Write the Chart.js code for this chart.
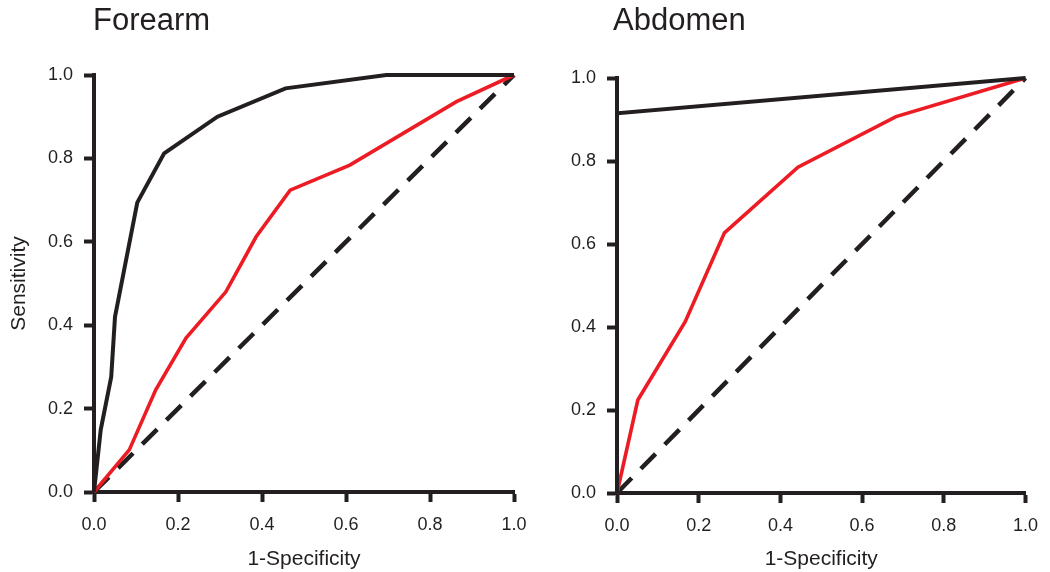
<!DOCTYPE html>
<html><head><meta charset="utf-8">
<script src="https://cdn.jsdelivr.net/npm/chart.js@4/dist/chart.umd.min.js"></script>
<style>
html,body{margin:0;padding:0;background:#fff;}
#wrap{position:relative;width:1050px;height:572px;overflow:hidden;background:#fff}
#c1{position:absolute;left:0;top:0}
#c2{position:absolute;left:560px;top:0}
</style></head><body>
<div id="wrap"><canvas id="c1" width="560" height="572"></canvas><canvas id="c2" width="490" height="572"></canvas></div>
<script>
// ---- data ----
const panelTitles = ['Forearm', 'Abdomen'];
const xAxisTitle = '1-Specificity';
const yAxisTitle = 'Sensitivity';
const tickValues = [0, 0.2, 0.4, 0.6, 0.8, 1.0];

const forearmBlackX = [0, 0.016, 0.041, 0.050, 0.103, 0.167, 0.294, 0.456, 0.696, 1.0];
const forearmBlackY = [0, 0.149, 0.276, 0.420, 0.694, 0.812, 0.900, 0.968, 1.0, 1.0];
const forearmRedX = [0, 0.084, 0.147, 0.219, 0.314, 0.386, 0.467, 0.609, 0.863, 1.0];
const forearmRedY = [0, 0.101, 0.245, 0.369, 0.480, 0.612, 0.724, 0.784, 0.936, 1.0];

const abdomenBlackX = [0, 0, 1.0];
const abdomenBlackY = [0, 0.915, 1.0];
const abdomenRedX = [0, 0.051, 0.167, 0.263, 0.443, 0.683, 1.0];
const abdomenRedY = [0, 0.224, 0.413, 0.627, 0.785, 0.907, 1.0];

const chanceX = [0, 1];
const chanceY = [0, 1];

// ---- styles ----
const INK = '#231f20';
const RED = '#ed1c24';
Chart.defaults.font.family = '"Liberation Sans", Arial, sans-serif';
Chart.defaults.color = INK;

function pts(xs, ys) { return xs.map((x, i) => ({x: x, y: ys[i]})); }

function axis(isX, showTitle, fitSize) {
  return {
    type: 'linear', min: 0, max: 1,
    afterBuildTicks: s => { s.ticks = tickValues.map(v => ({value: v})); },
    afterFit: s => { if (isX) s.height = fitSize; else s.width = fitSize; },
    ticks: {
      callback: v => Number(v).toFixed(1),
      font: {size: 18}, color: INK,
      padding: isX ? 12 : 11,
      maxRotation: 0, autoSkip: false
    },
    grid: {display: true, drawOnChartArea: false, drawTicks: true, tickLength: 10, tickWidth: 4, tickColor: INK},
    border: {display: true, width: 4, color: INK},
    title: {
      display: showTitle,
      text: isX ? xAxisTitle : yAxisTitle,
      font: {size: 21}, color: INK,
      padding: isX ? {top: 0, bottom: 0} : {top: 7, bottom: 0}
    }
  };
}

function makeChart(id, title, blackX, blackY, redX, redY, cfg) {
  new Chart(document.getElementById(id), {
    type: 'scatter',
    data: {
      datasets: [
        {data: pts(blackX, blackY), showLine: true, borderColor: INK, borderWidth: 4, pointRadius: 0, order: 1, clip: false, borderJoinStyle: 'miter'},
        {data: pts(redX, redY), showLine: true, borderColor: RED, borderWidth: 3.6, pointRadius: 0, order: 2, clip: false},
        {data: pts(chanceX, chanceY), showLine: true, borderColor: INK, borderWidth: 4.5, borderDash: [21, 13], pointRadius: 0, order: 3, clip: false}
      ]
    },
    options: {
      responsive: false, animation: false,
      layout: {padding: cfg.padding},
      plugins: {
        legend: {display: false},
        tooltip: {enabled: false},
        title: {
          display: true, text: title, align: 'start', fullSize: false,
          font: {size: 31, weight: 'normal'}, color: INK,
          padding: {top: 3, bottom: cfg.titleBottom}
        }
      },
      scales: {
        x: axis(true, true, cfg.xHeight),
        y: axis(false, cfg.yTitle, cfg.yWidth)
      }
    },
    plugins: [{
      id: 'titleShift',
      afterLayout(chart) { if (chart.titleBlock) chart.titleBlock.left += cfg.titleShift; }
    }]
  });
}

makeChart('c1', panelTitles[0], forearmBlackX, forearmBlackY, forearmRedX, forearmRedY,
  {padding: {left: 0, right: 46, top: 0, bottom: 0}, titleBottom: 34.8, xHeight: 80, yWidth: 94, yTitle: true, titleShift: -1});
makeChart('c2', panelTitles[1], abdomenBlackX, abdomenBlackY, abdomenRedX, abdomenRedY,
  {padding: {left: 0, right: 16, top: 0, bottom: 0}, titleBottom: 37.8, xHeight: 79, yWidth: 57, yTitle: false, titleShift: -4});
</script>
</body></html>
